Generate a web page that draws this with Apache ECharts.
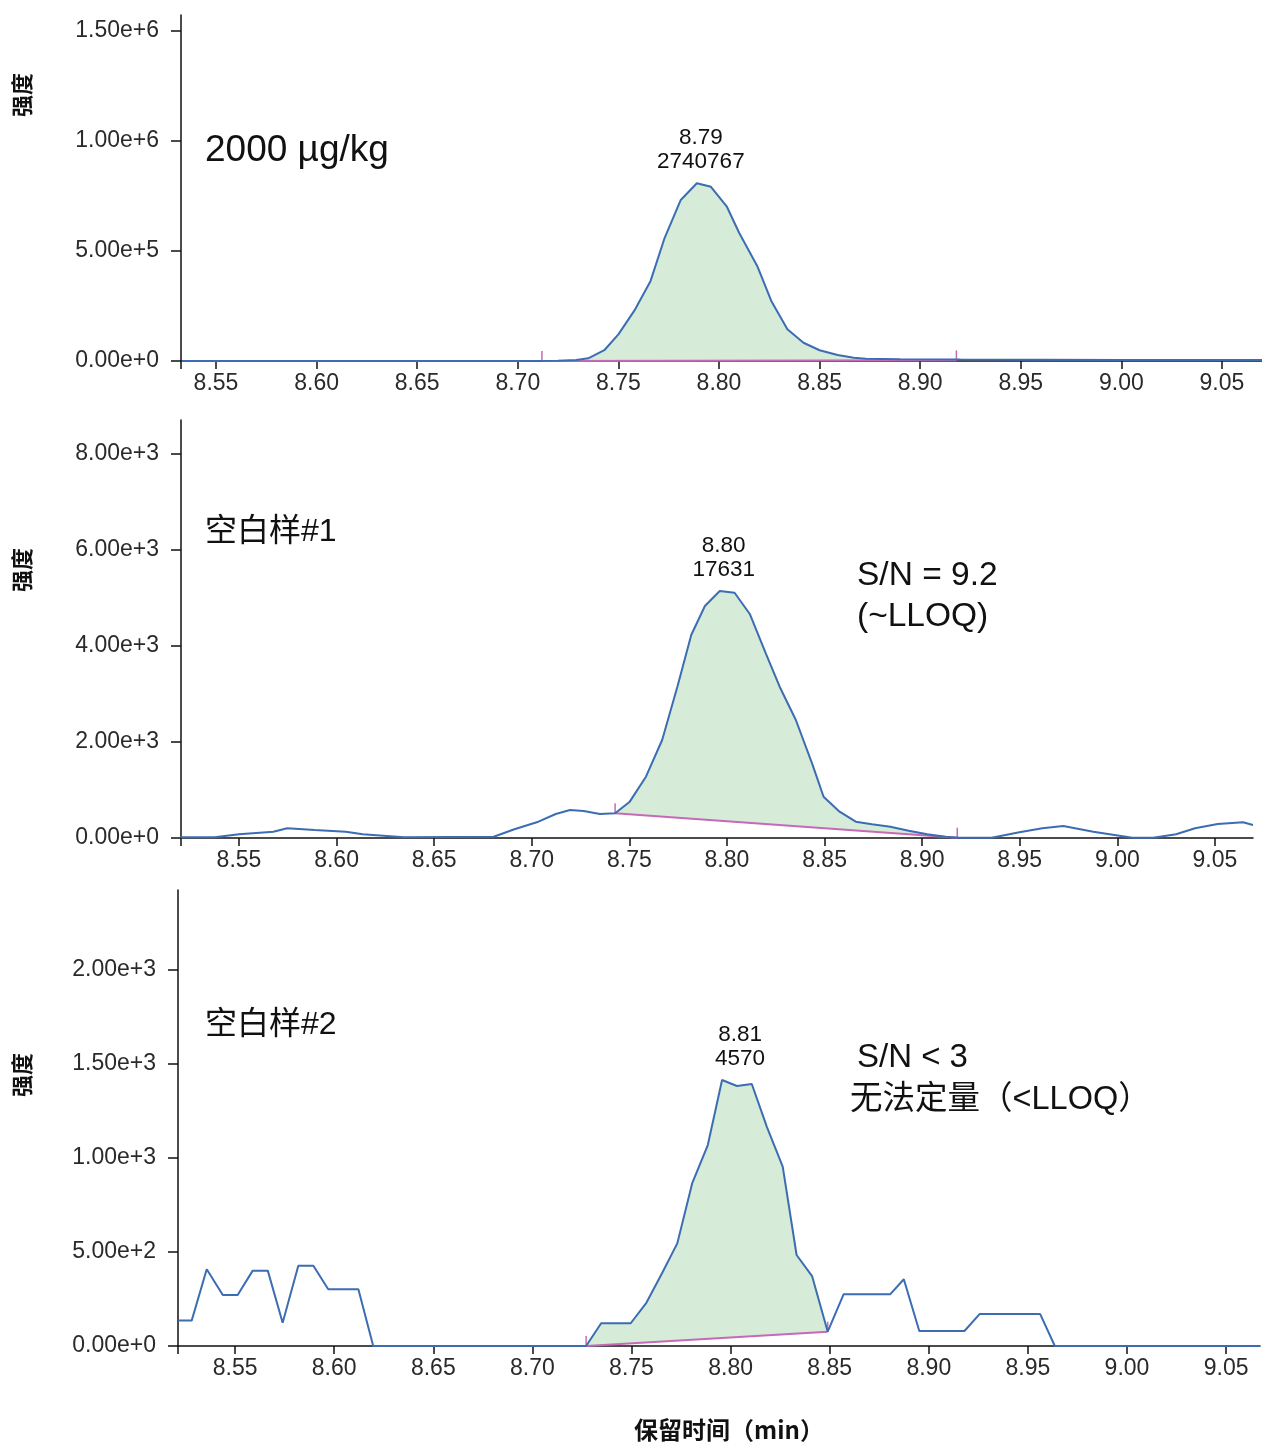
<!DOCTYPE html>
<html>
<head>
<meta charset="utf-8">
<script src="https://cdn.jsdelivr.net/npm/echarts@6/dist/echarts.min.js"></script>
<style>
  html, body { margin: 0; padding: 0; background: #fff; }
  #chart { width: 1262px; height: 1445px; }
</style>
</head>
<body>
<div id="chart"></div>
<script>
// retention time ticks shared by all three panels
const rtTicks = [8.55, 8.60, 8.65, 8.70, 8.75, 8.80, 8.85, 8.90, 8.95, 9.00, 9.05];

// panel 1: 2000 ug/kg standard
const rt1 = [8.533, 8.60, 8.65, 8.70, 8.720, 8.729, 8.735, 8.743, 8.750, 8.758, 8.766, 8.773, 8.781, 8.789,
  8.796, 8.804, 8.810, 8.819, 8.826, 8.834, 8.842, 8.850, 8.859, 8.867, 8.873, 8.89, 8.92, 8.96, 9.00, 9.07];
const int1 = [0, 0, 0, 0, 1000, 5000, 12000, 49000, 121000, 230000, 364000, 560000, 732000, 808000,
  792000, 700000, 583000, 432000, 273000, 144000, 83000, 49000, 27000, 15000, 10000, 8000, 7000, 6000, 5000, 4000];
const base1Rt = [8.712, 8.918];
const base1Int = [0, 3000];
const apex1 = [8.789, 808000];
const yTicks1 = [0, 500000, 1000000, 1500000];

// panel 2: blank #1
const rt2 = [8.520, 8.5376, 8.550, 8.5676, 8.5747, 8.5888, 8.6047, 8.6134, 8.6346, 8.6805, 8.6911, 8.7034,
  8.7123, 8.7196, 8.7266, 8.7349, 8.7427, 8.7502, 8.7585, 8.7668, 8.7746, 8.7817, 8.7887, 8.7963, 8.8039,
  8.8117, 8.8199, 8.8270, 8.8353, 8.8436, 8.8495, 8.8577, 8.8660, 8.8743, 8.8837, 8.8931, 8.9026, 8.9120,
  8.9191, 8.9356, 8.9498, 8.9616, 8.9723, 8.9877, 9.0077, 9.0184, 9.0301, 9.0398, 9.0514, 9.0644, 9.0695];
const int2 = [15, 15, 77, 131, 202, 167, 131, 77, 15, 27, 181, 340,
  500, 583, 563, 500, 514, 757, 1277, 2042, 3152, 4229, 4833, 5146, 5110,
  4667, 3848, 3152, 2458, 1556, 860, 548, 340, 285, 235, 152, 77, 27,
  6, 6, 119, 202, 250, 131, 6, 6, 77, 202, 292, 327, 271];
const base2Rt = [8.7427, 8.918];
const base2Int = [514, 6];
const apex2 = [8.7963, 5146];
const yTicks2 = [0, 2000, 4000, 6000, 8000];

// panel 3: blank #2
const rt3 = [8.5213, 8.5281, 8.5357, 8.5438, 8.5513, 8.5589, 8.5665, 8.5740, 8.5819, 8.5895, 8.5970, 8.6122,
  8.6197, 8.7271, 8.7347, 8.7496, 8.7575, 8.7654, 8.7731, 8.7806, 8.7885, 8.7957, 8.8032, 8.8107, 8.8183,
  8.8263, 8.8333, 8.8411, 8.8490, 8.8570, 8.8805, 8.8874, 8.8952, 8.9180, 8.9256, 8.9562, 8.9636, 9.0671];
const int3 = [135, 135, 408, 271, 271, 401, 401, 124, 427, 427, 302, 302,
  0, 0, 121, 121, 230, 387, 546, 865, 1069, 1415, 1383, 1394, 1166,
  954, 484, 372, 76, 275, 275, 355, 80, 80, 170, 170, 0, 0];
const base3Rt = [8.7271, 8.849];
const base3Int = [0, 76];
const apex3 = [8.7957, 1415];
const yTicks3 = [0, 500, 1000, 1500, 2000];

const blue = '#3c6db3';
const pink = '#c66ab8';
const green = '#d6ebd8';
const latin = '"Liberation Sans", "Noto Sans CJK SC", sans-serif';

const grids = [
  { left: 181, top: 15, width: 1081, height: 346 },
  { left: 181, top: 420, width: 1072, height: 418 },
  { left: 178, top: 890, width: 1082, height: 456 }
];
const xRanges = [[8.5326, 9.0699], [8.5203, 9.0695], [8.5212, 9.0671]];
const yMax = [1572700, 8708, 2426];
const yTicks = [yTicks1, yTicks2, yTicks3];

function xAxis(i) {
  return {
    type: 'value', gridIndex: i, min: xRanges[i][0], max: xRanges[i][1],
    axisLine: { lineStyle: { color: '#111', width: 1.5 } },
    axisTick: { length: 8, lineStyle: { color: '#111', width: 1.5 }, customValues: [xRanges[i][0]].concat(rtTicks) },
    axisLabel: { customValues: rtTicks, formatter: (v) => v.toFixed(2), color: '#2a2a2a', fontSize: 23, fontFamily: latin, margin: 11 },
    splitLine: { show: false }
  };
}
function yAxis(i) {
  return {
    type: 'value', gridIndex: i, min: 0, max: yMax[i],
    axisLine: { show: true, lineStyle: { color: '#111', width: 1.5 } },
    axisTick: { show: true, length: 10, lineStyle: { color: '#111', width: 1.5 }, customValues: yTicks[i] },
    axisLabel: { customValues: yTicks[i], formatter: (v) => Number(v).toExponential(2), color: '#2a2a2a', fontSize: 23, fontFamily: latin, margin: 22 },
    splitLine: { show: false }
  };
}

function zip(a, b) { return a.map((x, i) => [x, b[i]]); }

function traceSeries(i, rt, inten, apex, label, offX) {
  return {
    type: 'line', xAxisIndex: i, yAxisIndex: i, data: zip(rt, inten),
    symbol: 'none', z: 4, lineStyle: { color: blue, width: 2 },
    markPoint: {
      symbol: 'circle', symbolSize: 1, itemStyle: { color: 'transparent' },
      label: { show: true, position: 'top', distance: 9, offset: [offX, 0], formatter: label,
        color: '#111', fontSize: 22.5, lineHeight: 24, fontFamily: latin },
      data: [{ coord: apex }]
    }
  };
}
function baseSeries(i, bRt, bInt) {
  return {
    type: 'line', xAxisIndex: i, yAxisIndex: i, data: zip(bRt, bInt),
    symbol: 'none', z: 3, lineStyle: { color: pink, width: 2 }
  };
}
function fillSeries(i, rt, inten, bRt, bInt) {
  return {
    type: 'custom', xAxisIndex: i, yAxisIndex: i, z: 2, silent: true,
    data: [[bRt[0], bInt[0]]],
    renderItem: function (params, api) {
      const start = api.coord([bRt[0], bInt[0]]);
      const end = api.coord([bRt[1], bInt[1]]);
      const pts = [start];
      rt.forEach((t, k) => { if (t > bRt[0] && t < bRt[1]) pts.push(api.coord([t, inten[k]])); });
      pts.push(end);
      return {
        type: 'group',
        children: [
          { type: 'polygon', shape: { points: pts }, style: { fill: green } },
          { type: 'line', shape: { x1: start[0], y1: start[1], x2: start[0], y2: start[1] - 10 }, style: { stroke: pink, lineWidth: 1.5 } },
          { type: 'line', shape: { x1: end[0], y1: end[1], x2: end[0], y2: end[1] - 10 }, style: { stroke: pink, lineWidth: 1.5 } }
        ]
      };
    }
  };
}

function note(text, x, y, size) {
  return {
    type: 'text', x: x, y: y,
    style: { text: text, fill: '#111', font: size + 'px ' + latin, verticalAlign: 'middle' }
  };
}
function yName(y) {
  return {
    type: 'text', x: 22, y: y, rotation: Math.PI / 2,
    style: { text: '强度', fill: '#111', font: 'bold 22px "Noto Sans CJK SC"', align: 'center', verticalAlign: 'middle' }
  };
}

const chart = echarts.init(document.getElementById('chart'), null, { renderer: 'canvas' });
chart.setOption({
  animation: false,
  backgroundColor: '#fff',
  grid: grids,
  xAxis: [xAxis(0), xAxis(1), xAxis(2)],
  yAxis: [yAxis(0), yAxis(1), yAxis(2)],
  series: [
    fillSeries(0, rt1, int1, base1Rt, base1Int),
    baseSeries(0, base1Rt, base1Int),
    traceSeries(0, rt1, int1, apex1, '8.79\n2740767', 4),
    fillSeries(1, rt2, int2, base2Rt, base2Int),
    baseSeries(1, base2Rt, base2Int),
    traceSeries(1, rt2, int2, apex2, '8.80\n17631', 4),
    fillSeries(2, rt3, int3, base3Rt, base3Int),
    baseSeries(2, base3Rt, base3Int),
    traceSeries(2, rt3, int3, apex3, '8.81\n4570', 18)
  ],
  graphic: [
    yName(95), yName(570), yName(1075),
    note('2000 µg/kg', 205, 151, 37),
    note('空白样#1', 205, 532, 32),
    note('S/N = 9.2', 857, 576, 33.5),
    note('(~LLOQ)', 857, 617, 33.5),
    note('空白样#2', 205, 1025, 32),
    note('S/N < 3', 857, 1058, 33),
    note('无法定量（<LLOQ）', 850, 1100, 32.5),
    {
      type: 'text', x: 729, y: 1430,
      style: { text: '保留时间（min）', fill: '#111', font: 'bold 24px "Noto Sans CJK SC"', align: 'center', verticalAlign: 'middle' }
    }
  ]
});
</script>
</body>
</html>
